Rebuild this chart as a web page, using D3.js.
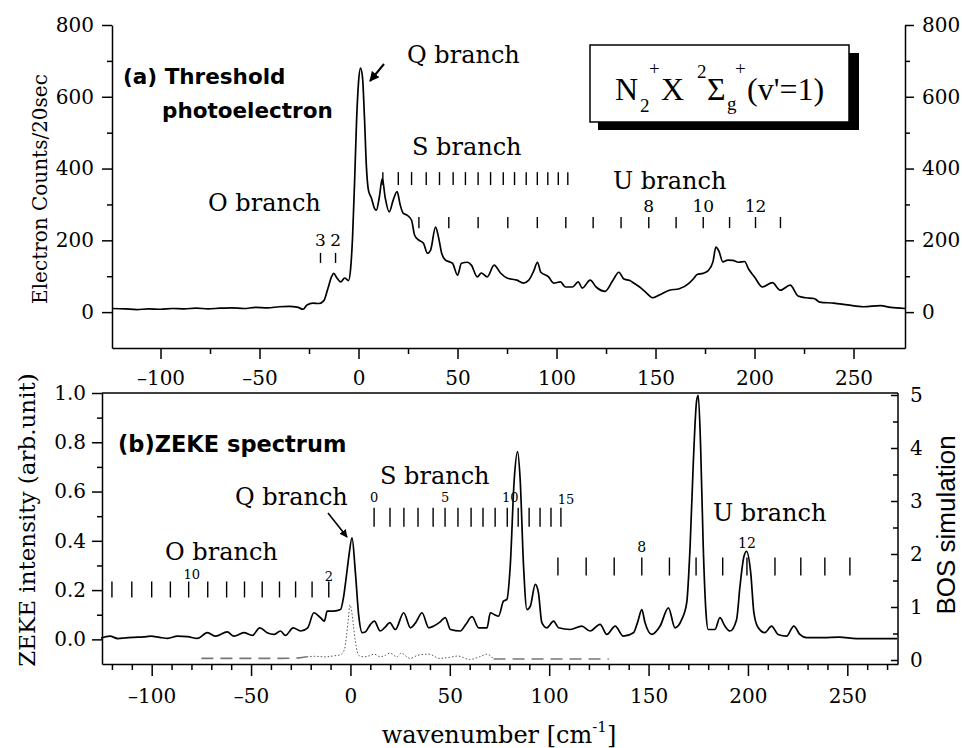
<!DOCTYPE html>
<html>
<head>
<meta charset="utf-8">
<script src="https://cdn.jsdelivr.net/npm/d3@7"></script>
<style>
  body { margin: 0; background: #fff; }
  svg { display: block; }
</style>
</head>
<body>
<svg id="chart" width="962" height="748"></svg>
<script>
// ---- (a) threshold photoelectron spectrum ----
const topWavenumber = [-124.5,-118,-112,-106,-100,-94,-88,-82,-76,-70,-64,-58,-52,-46,-40,-35,-31,-28,-26,-23,-20,-17.5,-15.5,-13.5,-12.5,-11,-9,-7,-5,-4,-3,-2,-1,0,1,2,3,4,5,6.5,8,9,10.5,12,13.5,15.5,17.5,19.5,21,22.5,24.5,26.8,28.3,30.3,32.8,34.8,36.4,38.9,40.4,42,43.9,46,47.5,50,52,55,57,60,62,65,68.5,71.7,75,80,83.3,86,88.5,90.4,92,96,98.5,102,104.5,108,111,113,117,120,124.5,128.5,131.5,134,137,139,142,145.5,148.5,152,157,162,167,169.5,171,174,176.5,179,180.5,182,184,186.5,189,192,195,197,200,204,209,213,218,222,226,230,233,240,247,255,263.6,268.7,276];
const topCounts = [10,9,7,9,8,10,9,11,9,11,12,10,13,12,15,16,14,8,20,25,24,32,65,100,108,96,84,95,88,120,210,360,530,640,680,655,543,404,340,318,290,284,320,372,318,279,312,336,300,276,270,256,215,201,192,164,173,237,209,164,145,140,136,103,136,139,131,98,109,98,131,109,95,89,81,89,115,139,112,98,81,84,70,70,84,67,89,70,58,89,111,92,88,81,70,53,40,48,61,65,81,95,105,108,115,140,181,170,140,145,144,139,141,120,98,70,82,61,75,45,40,38,28,25,20,15,18,13,10];

// ---- (b) ZEKE spectrum ----
const zekeWavenumber = [-125.5,-121,-117,-113,-109,-104,-100.5,-96,-92,-87,-82,-77,-72,-67.8,-62,-58.6,-53.6,-49.4,-45.6,-41.9,-38.5,-35.2,-32.7,-28.8,-25.1,-21.5,-18.4,-15.1,-13.1,-11.7,-8.4,-5,-3.4,-2,-0.8,0.8,2.5,4.2,5.9,7.5,10,12,15,17.5,19.8,22.6,26.8,30.2,33,36,39.4,41.9,45,47.7,50.3,55.3,58,61.2,64.5,68.7,70.4,72.5,74.5,77,78.7,80.4,82.4,84.1,85.4,87.1,88.8,90.5,93,94.6,96.3,98.8,102.2,104.7,110.6,116.4,120.6,125.6,129,133.2,137.3,142.4,144.5,146.6,148.2,151.6,155.8,160,163.3,166.7,169.2,170.9,172.5,174.2,175,176.2,177.5,178.9,180,183.4,185.9,188.4,191,194.3,196,198,199.3,201.4,203,205.2,208.5,211.9,215.2,219.4,223.1,226.1,229.5,237.8,246,254.6,263,275];
const zekeIntensity = [0.005,0.013,0.003,0.006,0.008,0.01,0.013,0.008,0.004,0.013,0.011,0.004,0.027,0.013,0.03,0.013,0.027,0.016,0.047,0.027,0.02,0.034,0.016,0.047,0.034,0.047,0.108,0.088,0.074,0.115,0.115,0.121,0.175,0.26,0.337,0.412,0.27,0.094,0.027,0.03,0.06,0.074,0.034,0.05,0.068,0.04,0.108,0.047,0.07,0.108,0.047,0.054,0.07,0.088,0.04,0.034,0.06,0.092,0.047,0.047,0.108,0.1,0.094,0.155,0.162,0.297,0.648,0.762,0.648,0.297,0.121,0.135,0.223,0.189,0.068,0.047,0.074,0.047,0.04,0.054,0.034,0.061,0.02,0.054,0.013,0.027,0.07,0.121,0.068,0.02,0.054,0.128,0.047,0.081,0.149,0.378,0.715,0.97,0.99,0.78,0.378,0.108,0.04,0.04,0.088,0.054,0.034,0.081,0.216,0.337,0.357,0.27,0.108,0.047,0.027,0.054,0.02,0.013,0.054,0.02,0.007,0.007,0.009,0.003,0.003,0.003];

// BOS simulation (right axis)
const simWavenumber = [-75,-65,-55,-45,-35,-26,-22,-18,-13,-8,-5,-3,-2,-1,-0.3,0.5,1.5,2.5,3.5,4.5,6.7,9.5,12,15,17.5,19.8,23.4,25.5,30,34,39.4,45,50,54,60,65,68.7,72,80,90,100,110,120,130];
const simBos = [0.03,0.03,0.03,0.03,0.03,0.04,0.06,0.07,0.06,0.08,0.1,0.2,0.45,0.8,1.04,0.95,0.65,0.35,0.15,0.08,0.06,0.08,0.11,0.06,0.09,0.13,0.06,0.13,0.03,0.09,0.11,0.03,0.05,0.075,0.01,0.06,0.11,0.02,0.02,0.02,0.02,0.02,0.02,0.02];

// rotational line positions (cm-1)
const topOLines = [-19.2, -11.6];
const topSLines = [12.3, 20.1, 26.8, 34.2, 40.9, 47.8, 54.0, 60.4, 66.7, 73.1, 78.8, 84.7, 90.3, 95.6, 100.9, 105.7];
const topULines = [30.5, 45.6, 60.4, 75.4, 90.3, 104.7, 118.5, 132.6, 146.6, 160.4, 174.1, 187.4, 200.5, 213.1];
const zekeOLines = [-120, -110, -100, -90.6, -81.4, -71.8, -62.3, -53.3, -44.4, -35.7, -27.6, -19.3, -10.9];
const zekeSLines = [11.9, 19.9, 26.9, 34.0, 41.6, 47.6, 54.1, 60.7, 66.7, 72.8, 78.9, 84.4, 89.9, 95.4, 100.9, 105.9];
const zekeULines = [104.4, 118.6, 132.7, 146.6, 160.5, 173.9, 187.3, 199.5, 213.6, 226.6, 238.7, 251.3];

// tick values
const xMajor = [-100, -50, 0, 50, 100, 150, 200, 250];
const topYMajor = [0, 200, 400, 600, 800];
const zekeYMajor = [0, 0.2, 0.4, 0.6, 0.8, 1.0];
const bosMajor = [0, 1, 2, 3, 4, 5];

const svg = d3.select('#chart');
const serif = 'DejaVu Serif';

// scales
const xTop = d3.scaleLinear().domain([-124.5, 276]).range([112, 905]);
const yTop = d3.scaleLinear().domain([-100, 800]).range([348, 25]);
const xBot = d3.scaleLinear().domain([-125, 275.5]).range([102, 898]);
const yBot = d3.scaleLinear().domain([-0.1, 1.0]).range([664, 393]);
const yBos = d3.scaleLinear().domain([0, 5]).range([660, 395]);

const minus = d => d < 0 ? '\u2013' + Math.abs(d) : String(d);

function styleAxis(g, size) {
    g.attr('font-family', serif).attr('font-size', size);
    g.selectAll('path,line').attr('stroke', '#000').attr('stroke-width', 1.5);
}

// ---------- top panel axes ----------
svg.append('g').attr('transform', 'translate(112,0)')
    .call(d3.axisLeft(yTop).tickValues(topYMajor).tickSize(10).tickSizeOuter(0).tickPadding(8))
    .call(g => styleAxis(g, 20));
svg.append('g').attr('transform', 'translate(112,0)')
    .call(d3.axisLeft(yTop).tickValues([100, 300, 500, 700]).tickSize(5).tickFormat(''))
    .call(g => { styleAxis(g, 20); g.select('.domain').remove(); });

svg.append('g').attr('transform', 'translate(905,0)')
    .call(d3.axisRight(yTop).tickValues(topYMajor).tickSize(9).tickSizeOuter(0).tickPadding(8))
    .call(g => styleAxis(g, 20));
svg.append('g').attr('transform', 'translate(905,0)')
    .call(d3.axisRight(yTop).tickValues([100, 300, 500, 700]).tickSize(5).tickFormat(''))
    .call(g => { styleAxis(g, 20); g.select('.domain').remove(); });

svg.append('g').attr('transform', 'translate(0,348)')
    .call(d3.axisBottom(xTop).tickValues(xMajor).tickSize(11).tickSizeOuter(0).tickPadding(12).tickFormat(minus))
    .call(g => styleAxis(g, 20));
svg.append('g').attr('transform', 'translate(0,348)')
    .call(d3.axisBottom(xTop).tickValues([-75, -25, 25, 75, 125, 175, 225]).tickSize(6).tickFormat(''))
    .call(g => { styleAxis(g, 20); g.select('.domain').remove(); });

// ---------- bottom panel axes ----------
svg.append('line').attr('x1', 102).attr('x2', 898).attr('y1', 393).attr('y2', 393)
    .attr('stroke', '#000').attr('stroke-width', 1.5);

svg.append('g').attr('transform', 'translate(102,0)')
    .call(d3.axisLeft(yBot).tickValues(zekeYMajor).tickSize(10).tickSizeOuter(0).tickPadding(6).tickFormat(d3.format('.1f')))
    .call(g => styleAxis(g, 20));
svg.append('g').attr('transform', 'translate(102,0)')
    .call(d3.axisLeft(yBot).tickValues([0.1, 0.3, 0.5, 0.7, 0.9]).tickSize(5).tickFormat(''))
    .call(g => { styleAxis(g, 20); g.select('.domain').remove(); });

svg.append('g').attr('transform', 'translate(898,0)')
    .call(d3.axisRight(yBos).tickValues(bosMajor).tickSizeInner(-7).tickSizeOuter(0).tickPadding(12).tickFormat(d3.format('d')))
    .call(g => { styleAxis(g, 20); g.select('.domain').attr('d', 'M0,393V664'); });
svg.append('g').attr('transform', 'translate(898,0)')
    .call(d3.axisRight(yBos).tickValues([0.5, 1.5, 2.5, 3.5, 4.5]).tickSizeInner(-5).tickFormat(''))
    .call(g => { styleAxis(g, 20); g.select('.domain').remove(); });

svg.append('g').attr('transform', 'translate(0,664)')
    .call(d3.axisBottom(xBot).tickValues(xMajor).tickSize(12).tickSizeOuter(0).tickPadding(13).tickFormat(minus))
    .call(g => styleAxis(g, 20));
svg.append('g').attr('transform', 'translate(0,664)')
    .call(d3.axisBottom(xBot).tickValues(d3.range(-120, 275, 10).filter(v => v % 50 !== 0)).tickSize(6).tickFormat(''))
    .call(g => { styleAxis(g, 20); g.select('.domain').remove(); });

// ---------- curves ----------
const topLine = d3.line().x(d => xTop(d[0])).y(d => yTop(d[1])).curve(d3.curveMonotoneX);
svg.append('path').datum(d3.zip(topWavenumber, topCounts))
    .attr('d', topLine).attr('fill', 'none').attr('stroke', '#000').attr('stroke-width', 1.7);

const zekeLine = d3.line().x(d => xBot(d[0])).y(d => yBot(d[1])).curve(d3.curveMonotoneX);
svg.append('path').datum(d3.zip(zekeWavenumber, zekeIntensity))
    .attr('d', zekeLine).attr('fill', 'none').attr('stroke', '#000').attr('stroke-width', 1.7);

const simLine = d3.line().x(d => xBot(d[0])).y(d => yBos(d[1])).curve(d3.curveMonotoneX);
const sim = d3.zip(simWavenumber, simBos);
svg.append('path').datum(sim.filter(d => d[0] <= -22))
    .attr('d', simLine).attr('fill', 'none').attr('stroke', '#777').attr('stroke-width', 1.6)
    .attr('stroke-dasharray', '12,7');
svg.append('path').datum(sim.filter(d => d[0] >= -22 && d[0] <= 72))
    .attr('d', simLine).attr('fill', 'none').attr('stroke', '#555').attr('stroke-width', 1)
    .attr('stroke-dasharray', '1.5,2');
svg.append('path').datum(sim.filter(d => d[0] >= 72))
    .attr('d', simLine).attr('fill', 'none').attr('stroke', '#777').attr('stroke-width', 1.6)
    .attr('stroke-dasharray', '12,7');

// ---------- rotational line markers ----------
function marks(xs, ys, values, lo, hi) {
    svg.append('g').selectAll('line').data(values).join('line')
        .attr('x1', d => xs(d)).attr('x2', d => xs(d))
        .attr('y1', ys(lo)).attr('y2', ys(hi))
        .attr('stroke', '#000').attr('stroke-width', 1.4);
}
marks(xTop, yTop, topOLines, 137, 165);
marks(xTop, yTop, topSLines, 354, 390);
marks(xTop, yTop, topULines, 234, 265);
marks(xBot, yBot, zekeOLines, 0.17, 0.235);
marks(xBot, yBot, zekeSLines, 0.457, 0.534);
marks(xBot, yBot, zekeULines, 0.259, 0.332);

// ---------- text ----------
function label(x, y, txt, size, opts = {}) {
    return svg.append('text').attr('x', x).attr('y', y).text(txt)
        .attr('font-family', opts.family || serif).attr('font-size', size)
        .attr('font-weight', opts.weight || 'normal')
        .attr('text-anchor', opts.anchor || 'start');
}

// axis titles
label(0, 0, 'Electron Counts/20sec', 20, { anchor: 'middle' })
    .attr('transform', 'translate(47,189) rotate(-90)');
label(0, 0, 'ZEKE intensity (arb.unit)', 23, { anchor: 'middle' })
    .attr('transform', 'translate(35,520) rotate(-90)');
label(0, 0, 'BOS simulation', 26, { anchor: 'middle', family: 'Liberation Sans' })
    .attr('transform', 'translate(955,525) rotate(-90)');
const xt = label(499, 743, 'wavenumber [cm', 24, { anchor: 'middle' });
xt.append('tspan').attr('font-size', 15).attr('dy', -11).text('-1');
xt.append('tspan').attr('dy', 11).text(']');

// panel titles
label(123, 84, '(a) Threshold', 21.5, { family: 'DejaVu Sans', weight: 'bold' });
label(162, 118, 'photoelectron', 21.5, { family: 'DejaVu Sans', weight: 'bold' });
label(118, 452, '(b)ZEKE spectrum', 22.5, { family: 'DejaVu Sans', weight: 'bold' });

// branch names, top panel
label(407, 63, 'Q branch', 24);
label(208, 211, 'O branch', 24);
label(412, 155, 'S branch', 24);
label(613, 189, 'U branch', 24);
label(xTop(topOLines[0]), 246, '3', 17, { anchor: 'middle' });
label(xTop(topOLines[1]), 246, '2', 17, { anchor: 'middle' });
label(xTop(topULines[8]), 212, '8', 17, { anchor: 'middle' });
label(xTop(topULines[10]), 212, '10', 17, { anchor: 'middle' });
label(xTop(topULines[12]), 212, '12', 17, { anchor: 'middle' });

// branch names, bottom panel
label(380, 484, 'S branch', 24);
label(235, 505, 'Q branch', 24);
label(165, 560, 'O branch', 24);
label(713, 521, 'U branch', 24);
label(xBot(zekeSLines[0]), 502, '0', 13, { anchor: 'middle' });
label(xBot(zekeSLines[5]), 502, '5', 13, { anchor: 'middle' });
label(xBot(zekeSLines[10]) + 3, 502, '10', 13, { anchor: 'middle' });
label(xBot(zekeSLines[15]) + 5, 504, '15', 13, { anchor: 'middle' });
label(xBot(zekeOLines[4]) + 3, 579, '10', 13, { anchor: 'middle' });
label(xBot(zekeOLines[12]), 581, '2', 13, { anchor: 'middle' });
label(xBot(zekeULines[3]), 552, '8', 14, { anchor: 'middle' });
label(xBot(zekeULines[7]), 548, '12', 14, { anchor: 'middle' });

// arrows to the Q branch peaks
const defs = svg.append('defs');
defs.append('marker').attr('id', 'head').attr('viewBox', '0 0 10 10')
    .attr('refX', 9).attr('refY', 5).attr('markerWidth', 5).attr('markerHeight', 5)
    .attr('orient', 'auto')
    .append('path').attr('d', 'M0,0L10,5L0,10z').attr('fill', '#000');
svg.append('line').attr('x1', 384).attr('y1', 64).attr('x2', 370).attr('y2', 81)
    .attr('stroke', '#000').attr('stroke-width', 2).attr('marker-end', 'url(#head)');
svg.append('line').attr('x1', 328).attr('y1', 513).attr('x2', 347).attr('y2', 537)
    .attr('stroke', '#000').attr('stroke-width', 1.6).attr('marker-end', 'url(#head)');

// state label box
svg.append('rect').attr('x', 598).attr('y', 53).attr('width', 261).attr('height', 77).attr('fill', '#000');
svg.append('rect').attr('x', 590).attr('y', 45).attr('width', 259).attr('height', 77)
    .attr('fill', '#fff').attr('stroke', '#000').attr('stroke-width', 1.5);
const st = svg.append('text').attr('font-family', 'Liberation Serif').attr('font-size', 32);
st.append('tspan').attr('x', 615).attr('y', 100).text('N');
st.append('tspan').attr('x', 640).attr('y', 112).attr('font-size', 19).text('2');
st.append('tspan').attr('x', 649).attr('y', 75).attr('font-size', 19).text('+');
st.append('tspan').attr('x', 661).attr('y', 100).text('X');
st.append('tspan').attr('x', 697).attr('y', 78).attr('font-size', 19).text('2');
st.append('tspan').attr('x', 707).attr('y', 100).text('\u03a3');
st.append('tspan').attr('x', 727).attr('y', 110).attr('font-size', 19).text('g');
st.append('tspan').attr('x', 735).attr('y', 75).attr('font-size', 19).text('+');
st.append('tspan').attr('x', 747).attr('y', 100).text("(v'=1)");
</script>
</body>
</html>
